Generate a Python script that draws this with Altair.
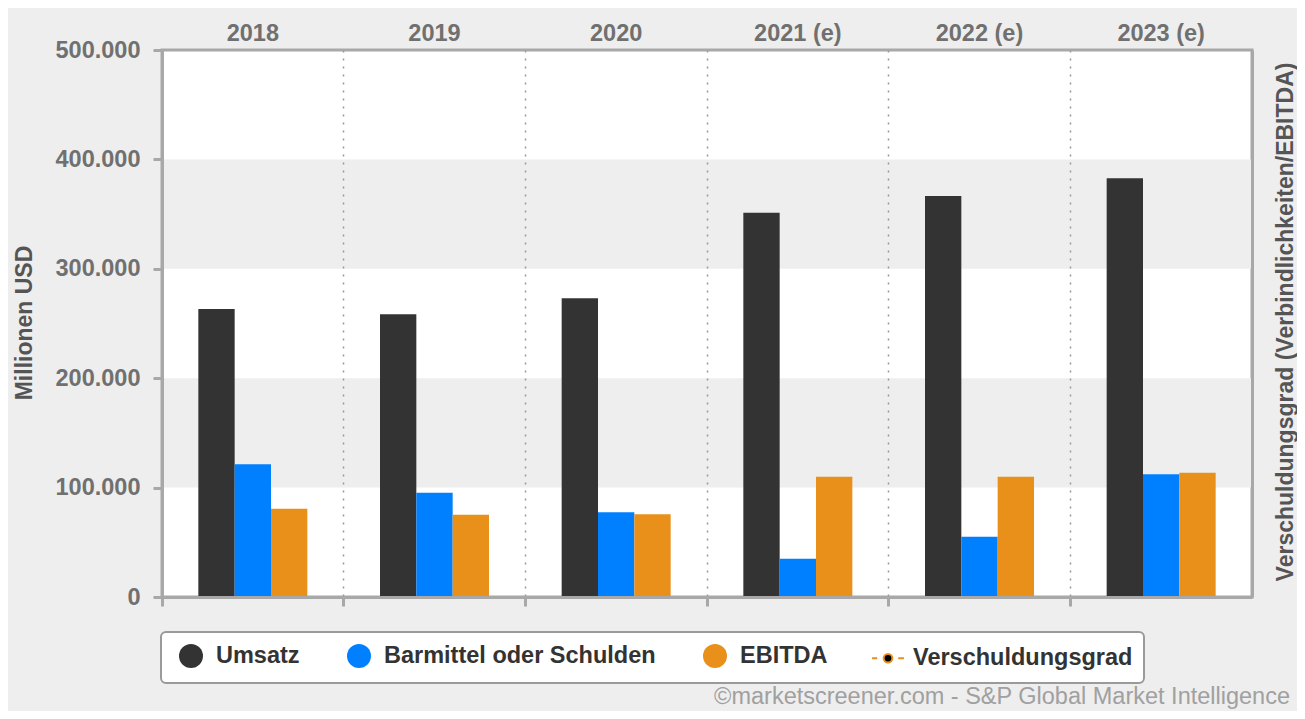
import altair as alt
import pandas as pd

# ---- data (in Millionen USD) ----
years = ["2018", "2019", "2020", "2021 (e)", "2022 (e)", "2023 (e)"]
umsatz = [263300, 258400, 273000, 351300, 366500, 382700]
barmittel = [121300, 95400, 77400, 35000, 55100, 112200]
ebitda = [80700, 75200, 75600, 110000, 110000, 113600]

bar_series = ["Umsatz", "Barmittel oder Schulden", "EBITDA"]
legend_series = bar_series + ["Verschuldungsgrad"]
series_colors = ["#333333", "#0080ff", "#e8901a", "#000000"]

y_ticks = [0, 100000, 200000, 300000, 400000, 500000]
band_lo = [100000, 300000]
band_hi = [200000, 400000]

rows = []
for i, yr in enumerate(years):
    rows.append({"year": yr, "series": "Umsatz", "value": umsatz[i]})
    rows.append({"year": yr, "series": "Barmittel oder Schulden", "value": barmittel[i]})
    rows.append({"year": yr, "series": "EBITDA", "value": ebitda[i]})
df = pd.DataFrame(rows)
bands = pd.DataFrame({"lo": band_lo, "hi": band_hi})

AXC = "#a8a8a8"
LBL = "#707070"
FONT = "Liberation Sans"

yscale = alt.Scale(domain=[0, 500000], nice=False, zero=True)
xscale = alt.Scale(domain=years, paddingInner=0, paddingOuter=0)

band_layer = alt.Chart(bands).mark_rect(color="#eeeeee").encode(
    y=alt.Y("lo:Q", scale=yscale, axis=None),
    y2="hi:Q",
)

sym_expr = ("datum.value === 'Verschuldungsgrad' ? "
            "'M-1.33,0H-0.9M0.85,0H1.33M-0.36,0A0.36,0.36,0,1,0,0.36,0A0.36,0.36,0,1,0,-0.36,0Z'"
            " : 'circle'")
stroke_expr = "datum.value === 'Verschuldungsgrad' ? '#e8901a' : 'transparent'"

bars = alt.Chart(df).mark_bar().encode(
    x=alt.X("year:N", scale=xscale, sort=years,
            axis=alt.Axis(orient="bottom", title=None, labels=False, ticks=True,
                          tickSize=9, tickWidth=3, tickColor=AXC,
                          domain=True, domainColor=AXC, domainWidth=3,
                          grid=True, gridDash=[2, 6], gridColor="#999999", gridWidth=1.5,
                          bandPosition=0, zindex=1)),
    xOffset=alt.XOffset("series:N", sort=bar_series,
                        scale=alt.Scale(domain=bar_series, paddingInner=0, paddingOuter=1)),
    y=alt.Y("value:Q", scale=yscale,
            axis=alt.Axis(orient="left", values=y_ticks, grid=False,
                          labelExpr="replace(format(datum.value, ','), ',', '.')",
                          labelFontSize=23.5, labelFontWeight="bold", labelColor=LBL,
                          labelPadding=13, tickSize=9, tickWidth=3, tickColor=AXC,
                          domainColor=AXC, domainWidth=3, zindex=1,
                          title="Millionen USD", titleFontSize=23, titleFontWeight="bold",
                          titleColor="#555555", titleAngle=270, titleX=-138, titleY=272.5,
                          titleAlign="center", titleBaseline="middle")),
    color=alt.Color("series:N",
                    scale=alt.Scale(domain=legend_series, range=series_colors),
                    legend=alt.Legend(title=None, orient="none", legendX=-1, legendY=582,
                                      direction="horizontal",
                                      symbolType={"expr": sym_expr},
                                      symbolStrokeColor={"expr": stroke_expr},
                                      symbolStrokeWidth=2, symbolSize=576, symbolOffset=6,
                                      labelFontSize=23.5, labelFontWeight="bold",
                                      labelColor="#333333", labelOffset=12, labelLimit=500,
                                      columnPadding=40, padding=11,
                                      fillColor="white", strokeColor="#9a9a9a",
                                      cornerRadius=5)),
)

guide = alt.Chart(df).transform_filter("false").mark_point().encode(
    x=alt.X("year:N", scale=xscale, sort=years,
            axis=alt.Axis(orient="top", title=None, ticks=False, tickSize=0, domain=False,
                          grid=False, labelFontSize=23.5, labelFontWeight="bold",
                          labelColor=LBL, labelPadding=10, labelBaseline="alphabetic",
                          labelAngle=0)),
    y=alt.Y("value:Q", scale=yscale,
            axis=alt.Axis(orient="right", labels=False, ticks=False, grid=False,
                          domain=True, domainColor=AXC, domainWidth=3, zindex=1,
                          title="Verschuldungsgrad (Verbindlichkeiten/EBITDA)",
                          titleFontSize=23, titleFontWeight="bold", titleColor="#555555",
                          titleAngle=270, titleX=33, titleY=271.5,
                          titleAlign="center", titleBaseline="middle")),
)

chart = alt.layer(band_layer, bars, guide).resolve_axis(
    x="independent", y="independent"
).properties(
    width=1090,
    height=547,
    padding={"left": 154, "top": 42, "right": 45, "bottom": 114},
    autosize=alt.AutoSizeParams(type="none"),
    title=alt.TitleParams(
        text="©marketscreener.com - S&P Global Market Intelligence",
        orient="bottom", anchor="end", frame="group", fontSize=23.5,
        fontWeight="normal", color="#a0a0a0", font=FONT, offset=20, dx=38,
        baseline="alphabetic"),
).configure(
    background="#eeeeee", font=FONT
).configure_view(
    stroke=AXC, strokeWidth=3, fill="white"
).configure_legend(
    strokeWidth=2
)

chart.save("out.html", embed_options={"renderer": "svg", "actions": False})
